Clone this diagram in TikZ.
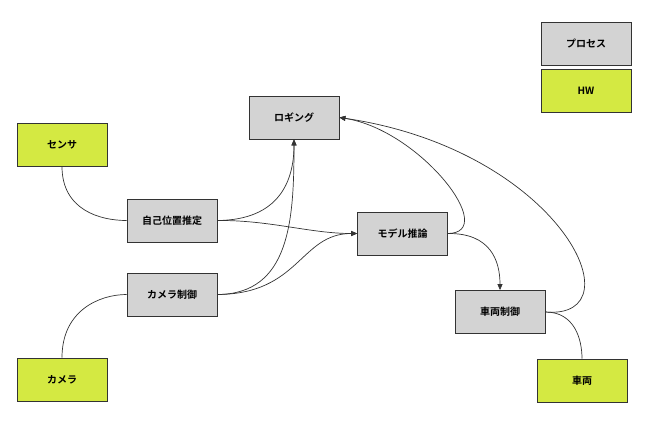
\documentclass[tikz,border=0pt]{standalone}
\usepackage{fontspec}
\setmainfont{Noto Sans CJK JP}[BoldFont={* Bold}]
\usetikzlibrary{arrows.meta}
\definecolor{procgray}{HTML}{D3D3D3}
\definecolor{hwgreen}{HTML}{D4E942}
\definecolor{edge}{HTML}{333333}
\begin{document}
\begin{tikzpicture}[x=1pt,y=-1pt,
  box/.style={draw=edge,line width=0.8pt,minimum width=90pt,minimum height=43pt,inner sep=0pt,font=\bfseries\fontsize{10}{12}\selectfont},
  proc/.style={box,fill=procgray},
  hw/.style={box,fill=hwgreen},
  link/.style={draw=edge,line width=0.7pt},
  arr/.style={link,-{Triangle[length=6pt,width=5pt]}}]
\useasboundingbox (0,0) rectangle (648,426);
\node[proc] (log) at (294,117.5) {ロギング};
\node[hw] (sensor) at (62,144.5) {センサ};
\node[proc] (loc) at (172,220.5) {自己位置推定};
\node[proc] (model) at (402.5,233.5) {モデル推論};
\node[proc] (cam) at (172,294.5) {カメラ制御};
\node[proc] (veh) at (500,312) {車両制御};
\node[hw] (camera) at (62,379.5) {カメラ};
\node[hw] (car) at (582,380.5) {車両};
\node[proc] (lp) at (586,43.5) {プロセス};
\node[hw] (lh) at (586,90.5) {HW};
\draw[link] (sensor.south) .. controls (62,210) and (100,220.5) .. (loc.west);
\draw[link] (camera.north) .. controls (62,310) and (100,294.5) .. (cam.west);
\draw[arr] (loc.east) .. controls (280,220) and (294,180) .. (log.south);
\draw[arr] (loc.east) .. controls (270,220) and (310,233.5) .. (model.west);
\draw[arr] (cam.east) .. controls (290,294) and (294,220) .. (log.south);
\draw[arr] (cam.east) .. controls (300,294) and (300,233.5) .. (model.west);
\draw[arr] (model.east) .. controls (500,233) and (420,130) .. (log.east);
\draw[arr] (model.east) .. controls (490,233) and (500,260) .. (veh.north);
\draw[arr] (veh.east) .. controls (640,320) and (560,150) .. (log.east);
\draw[link] (veh.east) .. controls (575,312) and (582,340) .. (car.north);
\end{tikzpicture}
\end{document}
